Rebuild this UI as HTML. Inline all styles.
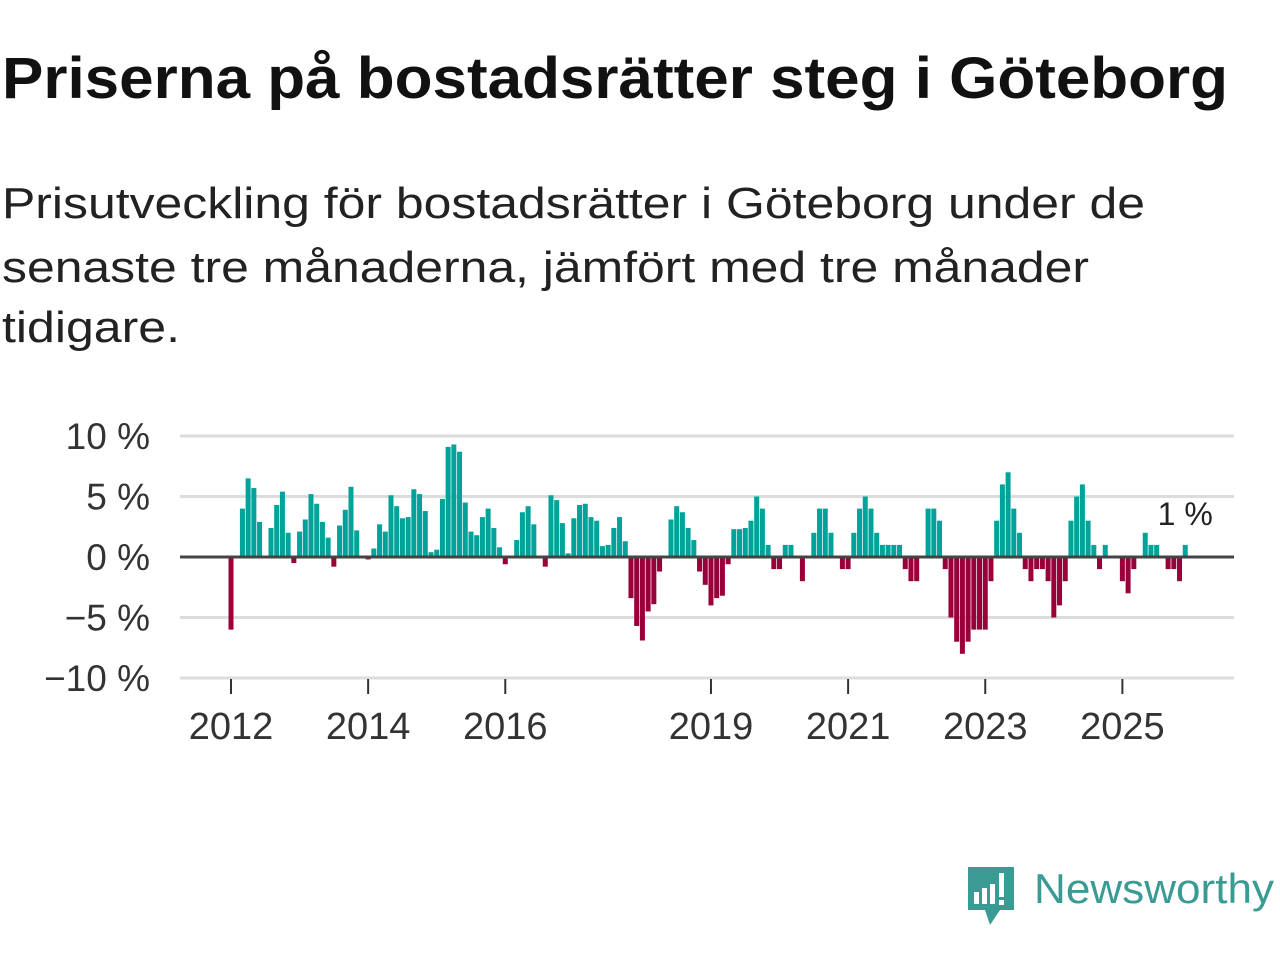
<!DOCTYPE html>
<html><head><meta charset="utf-8"><style>
html,body{margin:0;padding:0;background:#fff;}
svg{display:block;font-family:"Liberation Sans","DejaVu Sans",sans-serif;}
</style></head><body>
<svg id="chart" width="1280" height="960" viewBox="0 0 1280 960" xmlns="http://www.w3.org/2000/svg">
<text x="2" y="98" font-size="58" font-weight="bold" fill="#111" textLength="1226" lengthAdjust="spacingAndGlyphs">Priserna på bostadsrätter steg i Göteborg</text>
<g font-size="44" fill="#222">
<text x="2" y="218" textLength="1143" lengthAdjust="spacingAndGlyphs">Prisutveckling för bostadsrätter i Göteborg under de</text>
<text x="2" y="282" textLength="1087" lengthAdjust="spacingAndGlyphs">senaste tre månaderna, jämfört med tre månader</text>
<text x="2" y="342" textLength="178" lengthAdjust="spacingAndGlyphs">tidigare.</text>
</g>
<g id="grid"></g>
<g id="yaxis"></g>
<g id="bars"></g>
<g id="xaxis"></g>
<g>
<path d="M968 867 H1014 V910 H1000 L990 925 L985 910 H968 Z" fill="#3a9b94"/>
<rect x="974" y="892" width="5" height="12" fill="#fff"/>
<rect x="982" y="888" width="5" height="16" fill="#fff"/>
<rect x="990" y="884" width="5" height="20" fill="#fff"/>
<rect x="999" y="873" width="5" height="24" fill="#fff"/>
<rect x="999" y="900" width="5" height="5" fill="#fff"/>
<text x="1034" y="903" font-size="42" fill="#3a9b94" textLength="240" lengthAdjust="spacingAndGlyphs">Newsworthy</text>
</g>
</svg>
<script>
const values = [-6.0,0,4.0,6.5,5.7,2.9,0,2.4,4.3,5.4,2.0,-0.5,
2.1,3.1,5.2,4.4,2.9,1.6,-0.8,2.6,3.9,5.8,2.2,0,
-0.2,0.7,2.7,2.1,5.1,4.2,3.2,3.3,5.6,5.2,3.8,0.4,
0.6,4.8,9.1,9.3,8.7,4.5,2.1,1.8,3.3,4.0,2.4,0.8,
-0.6,0,1.4,3.7,4.2,2.7,0,-0.8,5.1,4.7,2.8,0.3,
3.2,4.3,4.4,3.3,3.0,0.9,1.0,2.4,3.3,1.3,-3.4,-5.7,
-6.9,-4.5,-3.9,-1.2,0.1,3.1,4.2,3.7,2.4,1.4,-1.2,-2.3,
-4.0,-3.4,-3.2,-0.6,2.3,2.3,2.4,3.0,5.0,4.0,1.0,-1.0,
-1.0,1.0,1.0,0,-2.0,0,2.0,4.0,4.0,2.0,0,-1.0,
-1.0,2.0,4.0,5.0,4.0,2.0,1.0,1.0,1.0,1.0,-1.0,-2.0,
-2.0,0,4.0,4.0,3.0,-1.0,-5.0,-7.0,-8.0,-7.0,-6.0,-6.0,
-6.0,-2.0,3.0,6.0,7.0,4.0,2.0,-1.0,-2.0,-1.0,-1.0,-2.0,
-5.0,-4.0,-2.0,3.0,5.0,6.0,3.0,1.0,-1.0,1.0,0,0,
-2.0,-3.0,-1.0,0,2.0,1.0,1.0,0,-1.0,-1.0,-2.0,1.0];
const yTicks = [10,5,0,-5,-10];
const yTickLabels = ["10 %","5 %","0 %","\u22125 %","\u221210 %"];
const xTickMonths = [0,24,48,84,108,132,156];
const xTickLabels = ["2012","2014","2016","2019","2021","2023","2025"];
const lastLabel = "1 %";

const NS="http://www.w3.org/2000/svg";
const X0=231, MW=5.714, Y0=557, PY=12.1, L=180, R=1234;
const xs=i=>X0+MW*i, ys=v=>Y0-v*PY;
function mk(t,a,p){const e=document.createElementNS(NS,t);for(const k in a)e.setAttribute(k,a[k]);p.appendChild(e);return e;}
const grid=document.getElementById('grid'),ya=document.getElementById('yaxis'),bars=document.getElementById('bars'),xa=document.getElementById('xaxis');
yTicks.forEach((v,k)=>{
  if(v!==0){const g=mk('line',{x1:L,x2:R,y1:ys(v),y2:ys(v),stroke:'#dcdcdc','stroke-width':3},grid);
  
  }
  const t=mk('text',{x:150,y:ys(v)+13,'text-anchor':'end','font-size':37,fill:'#333'},ya);
  t.textContent=yTickLabels[k];
  
  
});
values.forEach((v,i)=>{
  if(v===0)return;
  const y=v>0?ys(v):Y0, h=Math.abs(v)*PY;
  const b=mk('rect',{x:xs(i)-2.5,y:y,width:5,height:h,fill:v>0?'#00a399':'#99003a'},bars);
  
  
});
const zl=mk('line',{x1:L,x2:R,y1:Y0,y2:Y0,stroke:'#444','stroke-width':3},bars);


const li=values.length-1;
const lb=mk('text',{x:xs(li),y:ys(values[li])-20,'text-anchor':'middle','font-size':32,fill:'#222'},bars);
lb.textContent=lastLabel;


xTickMonths.forEach((m,k)=>{
  const tk=mk('line',{x1:xs(m),x2:xs(m),y1:679,y2:694,stroke:'#333','stroke-width':2},xa);
  
  
  const t=mk('text',{x:xs(m),y:739,'text-anchor':'middle','font-size':38,fill:'#333'},xa);
  t.textContent=xTickLabels[k];
  
  
});
</script>
</body></html>
